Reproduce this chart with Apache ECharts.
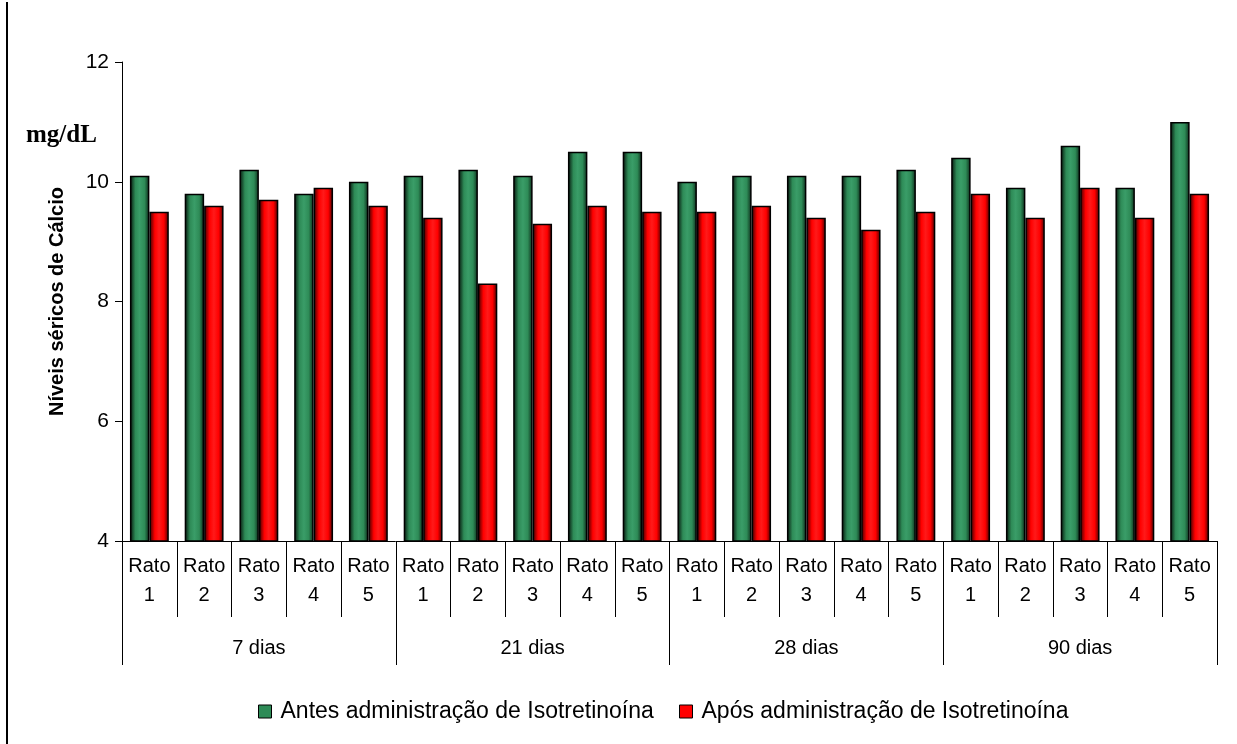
<!DOCTYPE html>
<html>
<head>
<meta charset="utf-8">
<script src="https://cdn.jsdelivr.net/npm/echarts@6/dist/echarts.min.js"></script>
<style>
html,body{margin:0;padding:0;background:#fff;}
#chart{width:1237px;height:744px;}
</style>
</head>
<body>
<div id="chart"></div>
<script>
var groups = ['7 dias', '21 dias', '28 dias', '90 dias'];
var rats = ['Rato\n1', 'Rato\n2', 'Rato\n3', 'Rato\n4', 'Rato\n5'];
var seriesNames = ['Antes administração de Isotretinoína', 'Após administração de Isotretinoína'];
var antes = [10.1, 9.8, 10.2, 9.8, 10.0, 10.1, 10.2, 10.1, 10.5, 10.5, 10.0, 10.1, 10.1, 10.1, 10.2, 10.4, 9.9, 10.6, 9.9, 11.0];
var apos = [9.5, 9.6, 9.7, 9.9, 9.6, 9.4, 8.3, 9.3, 9.6, 9.5, 9.5, 9.6, 9.4, 9.2, 9.5, 9.8, 9.4, 9.9, 9.4, 9.8];
var yTicks = {min: 4, max: 12, interval: 2};

var categories = [];
groups.forEach(function () { rats.forEach(function (r) { categories.push(r); }); });

var font = 'Liberation Sans, Arial, sans-serif';
function grad(dark, mid, light, dark2) {
  return new echarts.graphic.LinearGradient(0, 0, 1, 0, [
    {offset: 0, color: dark},
    {offset: 0.28, color: mid},
    {offset: 0.5, color: light},
    {offset: 0.75, color: mid},
    {offset: 1, color: dark2}
  ]);
}

var chart = echarts.init(document.getElementById('chart'));
var gridPos = {left: 122, right: 20, top: 62, bottom: 203};
var legendText = {fontFamily: font, fontSize: 23, color: '#000', padding: [0, 0, 0, 4]};
chart.setOption({
  backgroundColor: '#fff',
  animation: false,
  grid: [Object.assign({}, gridPos), Object.assign({}, gridPos)],
  legend: [
    {
      left: 258, top: 700, padding: 0,
      itemWidth: 13, itemHeight: 13,
      icon: 'rect',
      textStyle: legendText,
      data: [{name: seriesNames[0], itemStyle: {color: '#2e8b57', borderColor: '#000', borderWidth: 1}}]
    },
    {
      left: 679, top: 700, padding: 0,
      itemWidth: 13, itemHeight: 13,
      icon: 'rect',
      textStyle: legendText,
      data: [{name: seriesNames[1], itemStyle: {color: '#ff0000', borderColor: '#000', borderWidth: 1}}]
    }
  ],
  xAxis: [
    {
      type: 'category', gridIndex: 0, data: categories,
      boundaryGap: true,
      axisLine: {show: true, lineStyle: {color: '#000', width: 1}},
      axisTick: {show: true, interval: 0, length: 76, alignWithLabel: false, lineStyle: {color: '#000', width: 1}},
      axisLabel: {interval: 0, margin: 11, fontFamily: font, fontSize: 20, color: '#000', lineHeight: 29}
    },
    {
      type: 'category', gridIndex: 1, data: groups,
      boundaryGap: true, position: 'bottom',
      axisLine: {show: false},
      axisTick: {show: true, interval: 0, length: 124, alignWithLabel: false, lineStyle: {color: '#000', width: 1}},
      axisLabel: {interval: 0, margin: 97, fontFamily: font, fontSize: 20, color: '#000'}
    }
  ],
  yAxis: [
    {
      type: 'value', gridIndex: 0, min: yTicks.min, max: yTicks.max, interval: yTicks.interval,
      name: 'Níveis séricos de Cálcio', nameLocation: 'middle', nameGap: 55, nameRotate: 90,
      nameMoveOverlap: false,
      nameTextStyle: {fontFamily: font, fontSize: 20, fontWeight: 'bold', color: '#000'},
      axisLine: {show: true, lineStyle: {color: '#000', width: 1}},
      axisTick: {show: true, length: 7, lineStyle: {color: '#000'}},
      axisLabel: {fontFamily: font, fontSize: 21, color: '#000', margin: 13},
      splitLine: {show: false}
    },
    {
      type: 'value', gridIndex: 1, min: yTicks.min, max: yTicks.max, show: false, splitLine: {show: false}
    }
  ],
  series: [
    {
      name: seriesNames[0], type: 'bar', xAxisIndex: 0, yAxisIndex: 0,
      data: antes, barGap: '0%', barCategoryGap: '29%',
      itemStyle: {color: grad('#041009', '#2e8b57', '#3a9d68', '#0b2818'), borderColor: '#000', borderWidth: 1.5}
    },
    {
      name: seriesNames[1], type: 'bar', xAxisIndex: 0, yAxisIndex: 0,
      data: apos, barGap: '0%', barCategoryGap: '29%',
      itemStyle: {color: grad('#300000', '#ff0000', '#ff1a1a', '#400000'), borderColor: '#000', borderWidth: 1.5}
    }
  ],
  graphic: [
    {type: 'line', shape: {x1: 7, y1: 2, x2: 7, y2: 744}, style: {stroke: '#000', lineWidth: 2}},
    {type: 'text', left: 26, top: 123, style: {text: 'mg/dL', font: 'bold 25px "Liberation Serif", "Times New Roman", serif', fill: '#000'}}
  ]
});
</script>
</body>
</html>
